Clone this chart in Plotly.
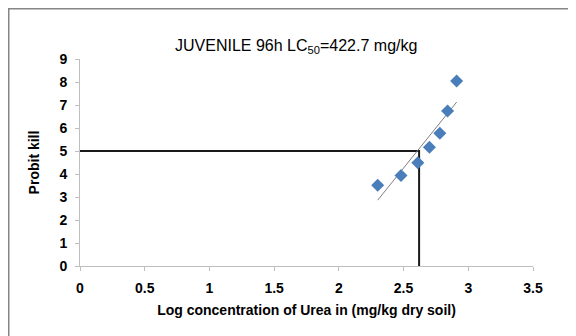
import numpy as np
import plotly.graph_objects as go

# Data
log_conc = [2.30, 2.48, 2.61, 2.70, 2.78, 2.84, 2.91]
probit_kill = [3.51, 3.94, 4.49, 5.16, 5.77, 6.74, 8.04]
lc50_log = 2.62
lc50_probit = 5.0
x_ticks = [0, 0.5, 1, 1.5, 2, 2.5, 3, 3.5]
y_ticks = list(range(0, 10))

# Linear trendline from data
slope, intercept = np.polyfit(log_conc, probit_kill, 1)
tx = [min(log_conc), max(log_conc)]
ty = [slope * v + intercept for v in tx]

fig = go.Figure()
fig.add_trace(go.Scatter(x=[0, lc50_log, lc50_log], y=[lc50_probit, lc50_probit, 0],
                         mode="lines", line=dict(color="#1a1a1a", width=2),
                         showlegend=False, hoverinfo="skip"))
fig.add_trace(go.Scatter(x=tx, y=ty, mode="lines",
                         line=dict(color="#7f7f7f", width=1), showlegend=False))
fig.add_trace(go.Scatter(x=log_conc, y=probit_kill, mode="markers",
                         marker=dict(symbol="diamond", size=10, color="#4a7ebb"),
                         showlegend=False))

OFF = 8  # page offset
W, H = 576, 336
l, t = 80 - OFF, 59 - OFF
r = W - (533 - OFF)
b = H - (266 - OFF)
pw, ph = W - l - r, H - t - b

def px(xs):
    return (xs - OFF - l) / pw

def py(ys):
    return (H - b - (ys - OFF)) / ph

fig.update_layout(
    width=W, height=H,
    margin=dict(l=l, r=r, t=t, b=b),
    paper_bgcolor="white", plot_bgcolor="white",
    font=dict(family="Liberation Sans, Arial, sans-serif", color="black"),
    shapes=[dict(type="rect", xref="paper", yref="paper",
                 x0=px(8.75), x1=px(700), y0=py(8.75), y1=py(450),
                 line=dict(color="#868686", width=1.5), fillcolor="rgba(0,0,0,0)",
                 layer="below")],
    annotations=[
        dict(text="JUVENILE 96h LC<sub>50</sub>=422.7 mg/kg", xref="paper", yref="paper",
             x=px(296), y=py(47), showarrow=False, xanchor="center", yanchor="middle",
             font=dict(size=16, color="black")),
    ],
)
fig.update_xaxes(range=[0, 3.5], tickvals=x_ticks, ticktext=[f"{v:g}" for v in x_ticks],
                 showgrid=False, zeroline=False, showline=True, linecolor="#bfbfbf",
                 linewidth=1, ticks="outside", ticklen=4, tickcolor="#bfbfbf",
                 ticklabelstandoff=5,
                 tickfont=dict(size=14, family="Liberation Sans, Arial", color="black", weight="bold"),
                 title=dict(text="<b>Log concentration of Urea in (mg/kg dry soil)</b>",
                            font=dict(size=14), standoff=10))
fig.update_yaxes(range=[0, 9], tickvals=y_ticks, showgrid=False, zeroline=False,
                 showline=True, linecolor="#bfbfbf", linewidth=1, ticks="outside",
                 ticklen=4, tickcolor="#bfbfbf", ticklabelstandoff=5,
                 tickfont=dict(size=14, family="Liberation Sans, Arial", color="black", weight="bold"),
                 title=dict(text="<b>Probit kill</b>", font=dict(size=14), standoff=16))

fig.write_html("out.html")
